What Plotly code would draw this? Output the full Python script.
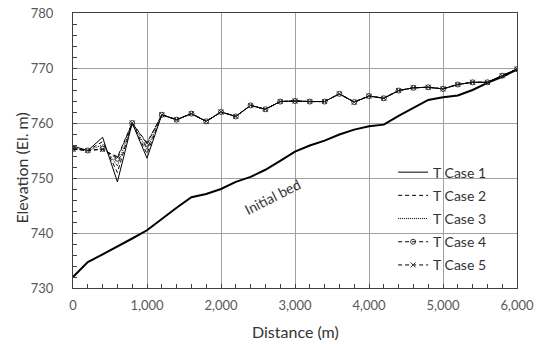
import plotly.graph_objects as go

distance = [0, 200, 400, 600, 800, 1000, 1200, 1400, 1600, 1800, 2000, 2200, 2400, 2600, 2800,
            3000, 3200, 3400, 3600, 3800, 4000, 4200, 4400, 4600, 4800, 5000, 5200, 5400, 5600, 5800, 6000]

initial_bed = [732.0, 734.7, 736.1, 737.5, 739.0, 740.5, 742.6, 744.6, 746.5, 747.1, 748.0, 749.3, 750.2,
               751.5, 753.1, 754.8, 755.9, 756.8, 757.9, 758.8, 759.4, 759.7, 761.3, 762.8, 764.2,
               764.7, 765.0, 766.0, 767.3, 768.4, 769.7]

base = [755.3, 755.0, 755.3, 753.5, 760.0, 756.2, 761.5, 760.6, 761.7, 760.3, 762.0, 761.2, 763.2,
        762.5, 763.9, 764.0, 763.9, 763.9, 765.3, 763.8, 764.9, 764.5, 765.9, 766.4, 766.5,
        766.2, 767.0, 767.4, 767.4, 768.6, 769.8]

case1 = [755.8, 755.0, 757.4, 749.3, 760.0, 753.6] + base[6:]
case2 = [755.5, 755.0, 756.6, 751.0, 760.0, 754.4] + base[6:]
case3 = [755.4, 755.0, 756.0, 752.2, 760.0, 755.2] + base[6:]
case4 = list(base)
case5 = [755.2, 755.0, 755.2, 753.8, 760.0, 756.4] + base[6:]

x_ticks = [0, 1000, 2000, 3000, 4000, 5000, 6000]
x_tick_labels = ["0", "1,000", "2,000", "3,000", "4,000", "5,000", "6,000"]
y_ticks = [730, 740, 750, 760, 770, 780]

FONT = "Lato"
fig = go.Figure()

fig.add_trace(go.Scatter(x=distance, y=initial_bed, mode="lines", name="Initial bed",
                         line=dict(color="black", width=2), showlegend=False))
fig.add_trace(go.Scatter(x=distance, y=case1, mode="lines", name="T Case 1", legendgroup="1",
                         line=dict(color="black", width=1)))
fig.add_trace(go.Scatter(x=distance, y=case2, mode="lines", name="T Case 2", legendgroup="2",
                         line=dict(color="black", width=1, dash="4px,3px")))
fig.add_trace(go.Scatter(x=distance, y=case3, mode="lines", name="T Case 3", legendgroup="3",
                         line=dict(color="black", width=1, dash="1px,1px")))
fig.add_trace(go.Scatter(x=distance, y=case4, mode="lines+markers", name="T Case 4", legendgroup="4",
                         line=dict(color="black", width=1, dash="4px,3px"),
                         marker=dict(symbol="circle-open", size=5, color="#333", line=dict(width=1))))
fig.add_trace(go.Scatter(x=distance, y=case5, mode="lines+markers", name="T Case 5", legendgroup="5",
                         line=dict(color="black", width=1, dash="4px,3px"),
                         marker=dict(symbol="x-thin-open", size=5, color="#333", line=dict(width=1, color="#333"))))

# white legend area covering gridlines
fig.add_shape(type="rect", xref="paper", yref="paper", x0=0.534, x1=0.97, y0=0.06, y1=0.46,
              fillcolor="white", line=dict(width=0), layer="between")

fig.add_annotation(x=2700, y=746.7, text="Initial bed", showarrow=False, textangle=-27,
                   font=dict(family=FONT, size=14, color="#333"))
fig.add_annotation(xref="paper", yref="paper", x=-0.116, y=0.436, text="Elevation (El. m)", showarrow=False,
                   textangle=-90, font=dict(family=FONT, size=16, color="#333"), xanchor="center", yanchor="middle")
fig.add_annotation(xref="paper", yref="paper", x=0.5, y=-0.159, text="Distance (m)", showarrow=False,
                   font=dict(family=FONT, size=16, color="#333"), xanchor="center", yanchor="middle")

fig.update_layout(
    width=537, height=344,
    margin=dict(l=73, r=20, t=13, b=56, autoexpand=False),
    paper_bgcolor="white", plot_bgcolor="white",
    font=dict(family=FONT, size=13, color="#595959"),
    legend=dict(x=0.721, y=0.478, xanchor="left", yanchor="top", bgcolor="rgba(0,0,0,0)",
                font=dict(family=FONT, size=14, color="#333"), tracegroupgap=2, itemwidth=30),
    xaxis=dict(range=[0, 6000], tickvals=x_ticks, ticktext=x_tick_labels, showgrid=True, automargin=False,
               gridcolor="#a0a0a0", gridwidth=1, showline=True, linecolor="#404040", linewidth=1,
               mirror=True, ticks="inside", ticklen=4, tickcolor="#404040", zeroline=False,
               minor=dict(dtick=200, ticks="inside", ticklen=4, tickcolor="#404040", showgrid=False),
               ticklabelstandoff=5, tickfont=dict(size=13)),
    yaxis=dict(range=[730, 780], tickvals=y_ticks, showgrid=True, automargin=False,
               gridcolor="#a0a0a0", gridwidth=1, showline=True, linecolor="#404040", linewidth=1,
               mirror=True, ticks="inside", ticklen=4, tickcolor="#404040", zeroline=False,
               minor=dict(dtick=2, ticks="inside", ticklen=4, tickcolor="#404040", showgrid=False),
               ticklabelstandoff=16, tickfont=dict(size=13)),
)

fig.write_html("out.html", config={"displayModeBar": False},
               post_script="document.body.style.margin='0';document.body.style.overflow='hidden';")
